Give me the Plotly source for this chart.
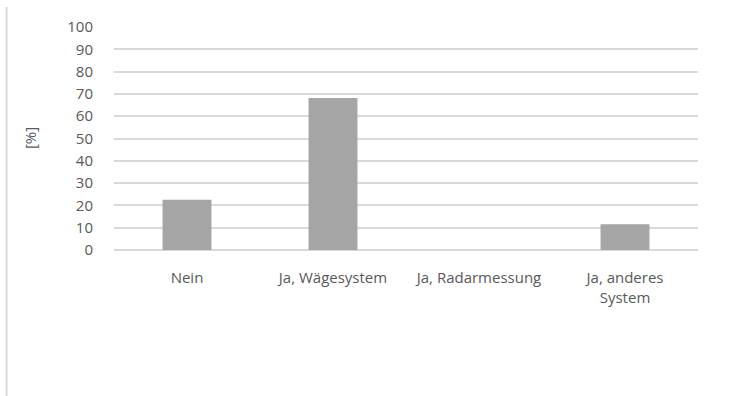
import plotly.graph_objects as go

categories = ["Nein", "Ja, Wägesystem", "Ja, Radarmessung", "Ja, anderes<br>System"]
values = [22.5, 68.2, 0, 11.5]
y_ticks = list(range(0, 101, 10))
y_title = "[%]"

W, H = 755, 396
ml, mr, mt, mb = 113.5, 57, 27, 146
pw = W - ml - mr

font = dict(family="'Open Sans', sans-serif", size=15, color="#595959")

fig = go.Figure(go.Bar(
    x=categories, y=values,
    marker=dict(color="#A5A5A5", line=dict(width=0)),
))

fig.update_layout(
    width=W, height=H,
    margin=dict(l=ml, r=mr, t=mt, b=mb, autoexpand=False),
    paper_bgcolor="white", plot_bgcolor="white",
    bargap=0.665,
    font=font,
    showlegend=False,
    xaxis=dict(showgrid=False, showline=False, ticks="", zeroline=False,
               tickfont=font, ticklabelstandoff=17),
    yaxis=dict(range=[0, 100], tickvals=y_ticks, showgrid=True,
               gridcolor="#D9D9D9", gridwidth=1.5, zeroline=True,
               zerolinecolor="#D9D9D9", zerolinewidth=1.5,
               showline=False, ticks="", tickfont=font, ticklabelstandoff=20),
    annotations=[dict(text=y_title, textangle=-90, xref="paper", yref="paper",
                      x=(29 - ml) / pw, y=0.5, showarrow=False,
                      xanchor="center", yanchor="middle", font=font)],
    shapes=[dict(type="line", xref="paper", yref="paper",
                 x0=(6 - ml) / pw, x1=(6 - ml) / pw,
                 y0=(H - mb - 7) / (H - mt - mb) + 0, y1=-(mb + 2) / (H - mt - mb),
                 line=dict(color="#D9D9D9", width=2))],
)

fig.write_html("out.html")
